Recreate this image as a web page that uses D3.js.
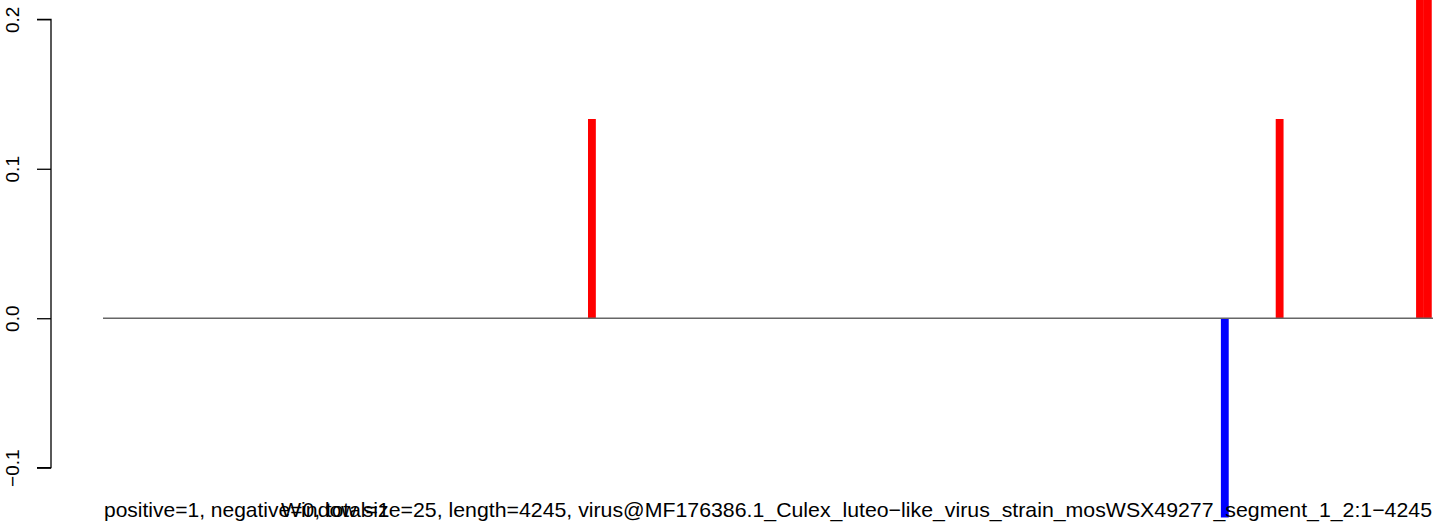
<!DOCTYPE html>
<html>
<head>
<meta charset="utf-8">
<script src="https://cdn.jsdelivr.net/npm/d3@7"></script>
<style>
  html, body { margin: 0; padding: 0; background: #fff; }
  svg { display: block; font-family: "Liberation Sans", Arial, Helvetica, sans-serif; }
</style>
</head>
<body>
<svg id="chart" width="1433" height="529"></svg>
<script>
// ---- data ----
const seqLength = 4245;
const windowSize = 25;
const windowStarts = [1548, 3568, 3743, 4191, 4216];
const windowValues = [0.1333, -0.1333, 0.1333, 0.2667, 0.2667];
const yTicks = [-0.1, 0.0, 0.1, 0.2];
const yTickLabels = ["\u22120.1", "0.0", "0.1", "0.2"];
const infoText = "positive=1, negative=0, total=1";
const titleText = "Window size=25, length=4245, virus@MF176386.1_Culex_luteo\u2212like_virus_strain_mosWSX49277_segment_1_2:1\u22124245";

// ---- drawing ----
const svg = d3.select("#chart");
const x = d3.scaleLinear().domain([0, seqLength]).range([103, 1433]);
const y = d3.scaleLinear().domain([-0.1, 0.2]).range([467.7, 19.3]);

const bars = windowStarts.map((s, i) => ({ start: s, value: windowValues[i] }));

svg.append("g").selectAll("rect")
  .data(bars)
  .join("rect")
  .attr("x", d => x(d.start))
  .attr("width", d => x(d.start + windowSize) - x(d.start))
  .attr("y", d => Math.min(y(d.value), y(0)))
  .attr("height", d => Math.abs(y(d.value) - y(0)))
  .attr("fill", d => d.value >= 0 ? "#ff0000" : "#0000ff");

// zero line
svg.append("line")
  .attr("x1", x(0)).attr("x2", x(seqLength))
  .attr("y1", y(0)).attr("y2", y(0))
  .attr("stroke", "#666").attr("stroke-width", 1.5);

// y axis
const axis = d3.axisLeft(y).tickValues(yTicks).tickSize(14).tickFormat((d, i) => yTickLabels[i]);
const gAxis = svg.append("g").attr("transform", "translate(51,0)").call(axis);
gAxis.select(".domain").attr("stroke", "#000").attr("stroke-width", 1.3)
  .attr("d", `M-14,${y(0.2)}H0V${y(-0.1)}H-14`);
gAxis.selectAll(".tick line").attr("stroke", "#000").attr("stroke-width", 1.3);
gAxis.selectAll(".tick text")
  .attr("x", null).attr("dy", null)
  .attr("transform", "translate(-32,0) rotate(-90)")
  .attr("text-anchor", "middle")
  .attr("fill", "#000")
  .style("font-size", "19px")
  .style("font-family", "'Liberation Sans', Arial, sans-serif");

// bottom texts
svg.append("text")
  .attr("x", 104).attr("y", 517)
  .attr("text-anchor", "start")
  .style("font-size", "21px")
  .attr("fill", "#000")
  .text(infoText);

svg.append("text")
  .attr("x", 1432).attr("y", 517)
  .attr("text-anchor", "end")
  .attr("textLength", 1151)
  .attr("lengthAdjust", "spacingAndGlyphs")
  .style("font-size", "21px")
  .attr("fill", "#000")
  .text(titleText);
</script>
</body>
</html>
